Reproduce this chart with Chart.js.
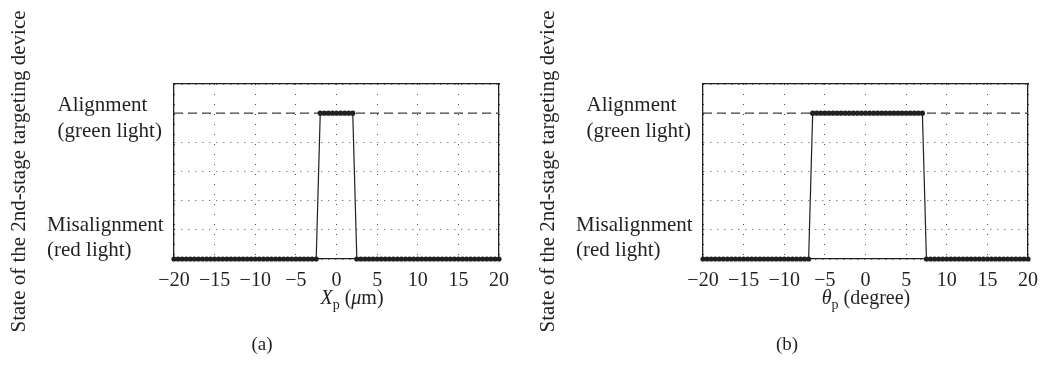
<!DOCTYPE html>
<html>
<head>
<meta charset="utf-8">
<script src="https://cdn.jsdelivr.net/npm/chart.js@4"></script>
<style>
  html, body { margin: 0; padding: 0; background: #fff; overflow: hidden; }
  #wrap { position: relative; width: 1040px; height: 375px; overflow: hidden; }
  canvas { position: absolute; top: 0; }
</style>
</head>
<body>
<div id="wrap">
  <canvas id="chartA" width="520" height="375" style="left:0"></canvas>
  <canvas id="chartB" width="520" height="375" style="left:529px"></canvas>
</div>
<script>
// sampled offsets (same grid for X_p in um and theta_p in degree)
const samples = [
  -20, -19.5, -19, -18.5, -18, -17.5, -17, -16.5, -16, -15.5,
  -15, -14.5, -14, -13.5, -13, -12.5, -12, -11.5, -11, -10.5,
  -10, -9.5, -9, -8.5, -8, -7.5, -7, -6.5, -6, -5.5,
  -5, -4.5, -4, -3.5, -3, -2.5, -2, -1.5, -1, -0.5,
  0, 0.5, 1, 1.5, 2, 2.5, 3, 3.5, 4, 4.5,
  5, 5.5, 6, 6.5, 7, 7.5, 8, 8.5, 9, 9.5,
  10, 10.5, 11, 11.5, 12, 12.5, 13, 13.5, 14, 14.5,
  15, 15.5, 16, 16.5, 17, 17.5, 18, 18.5, 19, 19.5,
  20
];

// state of the device: 0 = misalignment, 5 = alignment
const stateA = [
  0, 0, 0, 0, 0, 0, 0, 0, 0, 0,
  0, 0, 0, 0, 0, 0, 0, 0, 0, 0,
  0, 0, 0, 0, 0, 0, 0, 0, 0, 0,
  0, 0, 0, 0, 0, 0, 5, 5, 5, 5,
  5, 5, 5, 5, 5, 0, 0, 0, 0, 0,
  0, 0, 0, 0, 0, 0, 0, 0, 0, 0,
  0, 0, 0, 0, 0, 0, 0, 0, 0, 0,
  0, 0, 0, 0, 0, 0, 0, 0, 0, 0,
  0
];
const stateB = [
  0, 0, 0, 0, 0, 0, 0, 0, 0, 0,
  0, 0, 0, 0, 0, 0, 0, 0, 0, 0,
  0, 0, 0, 0, 0, 0, 0, 5, 5, 5,
  5, 5, 5, 5, 5, 5, 5, 5, 5, 5,
  5, 5, 5, 5, 5, 5, 5, 5, 5, 5,
  5, 5, 5, 5, 5, 0, 0, 0, 0, 0,
  0, 0, 0, 0, 0, 0, 0, 0, 0, 0,
  0, 0, 0, 0, 0, 0, 0, 0, 0, 0,
  0
];

// dashed alignment reference line
const refX = [-20, 20];
const refY = [5, 5];

const stateLabels = [['Misalignment', '(red light)'], ['Alignment', '(green light)']];
const yTitle = 'State of the 2nd-stage targeting device';

const ink = '#231f20';
const dotInk = '#4a4a4a';
const serif = '"Liberation Serif", "DejaVu Serif", serif';

// draws the x title (italic symbol + subscript) and the panel caption
const captions = {
  id: 'captions',
  afterDraw(chart, args, o) {
    const ctx = chart.ctx;
    const fontFor = p => (p.italic ? 'italic ' : '') + (p.sub ? '14px ' : '20px ') + serif;
    ctx.save();
    ctx.fillStyle = ink;
    ctx.textBaseline = 'alphabetic';
    let w = 0;
    o.parts.forEach(p => { ctx.font = fontFor(p); w += ctx.measureText(p.t).width; });
    let x = o.titleX - w / 2;
    o.parts.forEach(p => {
      ctx.font = fontFor(p);
      ctx.fillText(p.t, x, o.titleY + (p.sub ? 5 : 0));
      x += ctx.measureText(p.t).width;
    });
    ctx.font = '19px ' + serif;
    ctx.textAlign = 'center';
    ctx.textBaseline = 'middle';
    ctx.fillText(o.caption, o.capX, o.capY);
    ctx.restore();
  }
};

function build(id, ys, o) {
  const pts = samples.map((x, i) => ({ x: x, y: ys[i] }));
  const ref = refX.map((x, i) => ({ x: x, y: refY[i] }));

  return new Chart(document.getElementById(id), {
    type: 'line',
    data: {
      datasets: [
        {
          data: pts, xAxisID: 'x', yAxisID: 'y',
          borderColor: ink, borderWidth: 1.2, tension: 0,
          pointRadius: 2.6, pointBackgroundColor: ink, pointBorderWidth: 0,
          clip: false
        },
        {
          data: ref, xAxisID: 'x', yAxisID: 'y',
          borderColor: '#444', borderWidth: 1.3, borderDash: [9, 5],
          pointRadius: 0
        }
      ]
    },
    options: {
      responsive: false,
      animation: false,
      events: [],
      layout: { padding: { top: 84, right: 21, left: 0, bottom: 0 } },
      plugins: {
        legend: { display: false },
        tooltip: { enabled: false },
        captions: o.cap
      },
      scales: {
        x: {
          type: 'linear', position: 'bottom', min: -20, max: 20,
          grid: { color: dotInk, lineWidth: 1, drawTicks: false },
          border: { display: true, color: ink, width: 1.3, dash: [1, 9] },
          ticks: {
            stepSize: 5, padding: 10, color: ink,
            font: { family: serif, size: 20 },
            callback: v => String(v).replace('-', '\u2212')
          },
          afterFit: s => { s.height = 116; }
        },
        y: {
          type: 'linear', position: 'left', min: 0, max: 6, weight: 0,
          grid: { color: dotInk, lineWidth: 1, drawTicks: false },
          border: { display: true, color: ink, width: 1.3, dash: [1, 6] },
          ticks: { display: false, stepSize: 1 },
          afterFit: s => { s.width = 0; }
        },
        yl: {
          type: 'linear', position: 'left', min: 0, max: 6, weight: 1,
          grid: { display: false },
          border: { display: false },
          afterBuildTicks: s => { s.ticks = [{ value: 0.72 }, { value: 4.82 }]; },
          ticks: {
            crossAlign: 'far', color: ink,
            font: { family: serif, size: 21, lineHeight: 1.2 },
            callback: (v, i) => i === 0 ? stateLabels[0] : stateLabels[1].map(t => '  ' + t)
          },
          afterFit: s => { s.width = 127; }
        },
        yt: {
          type: 'linear', position: 'left', min: 0, max: 6, weight: 2,
          grid: { display: false },
          border: { display: false },
          ticks: { display: false },
          title: {
            display: true, text: yTitle, color: ink,
            font: { family: serif, size: 21 },
            padding: { top: 7, bottom: 0 }
          },
          afterFit: s => { s.width = 47; }
        },
        x2: {
          type: 'linear', position: 'top', min: -20, max: 20,
          grid: { display: false },
          ticks: { display: false },
          border: { display: true, color: ink, width: 1.3 },
          afterFit: s => { s.height = 0; }
        },
        y2: {
          type: 'linear', position: 'right', min: 0, max: 6,
          grid: { display: false },
          ticks: { display: false },
          border: { display: true, color: ink, width: 1.3 },
          afterFit: s => { s.width = 0; }
        }
      }
    },
    plugins: [captions]
  });
}

build('chartA', stateA, {
  cap: {
    parts: [{ t: 'X', italic: true }, { t: 'p', sub: true }, { t: ' (' }, { t: '\u03bc', italic: true }, { t: 'm)' }],
    titleX: 352, titleY: 304, caption: '(a)', capX: 262, capY: 345
  }
});

build('chartB', stateB, {
  cap: {
    parts: [{ t: '\u03b8', italic: true }, { t: 'p', sub: true }, { t: ' (degree)' }],
    titleX: 337, titleY: 304, caption: '(b)', capX: 258, capY: 345
  }
});
</script>
</body>
</html>
